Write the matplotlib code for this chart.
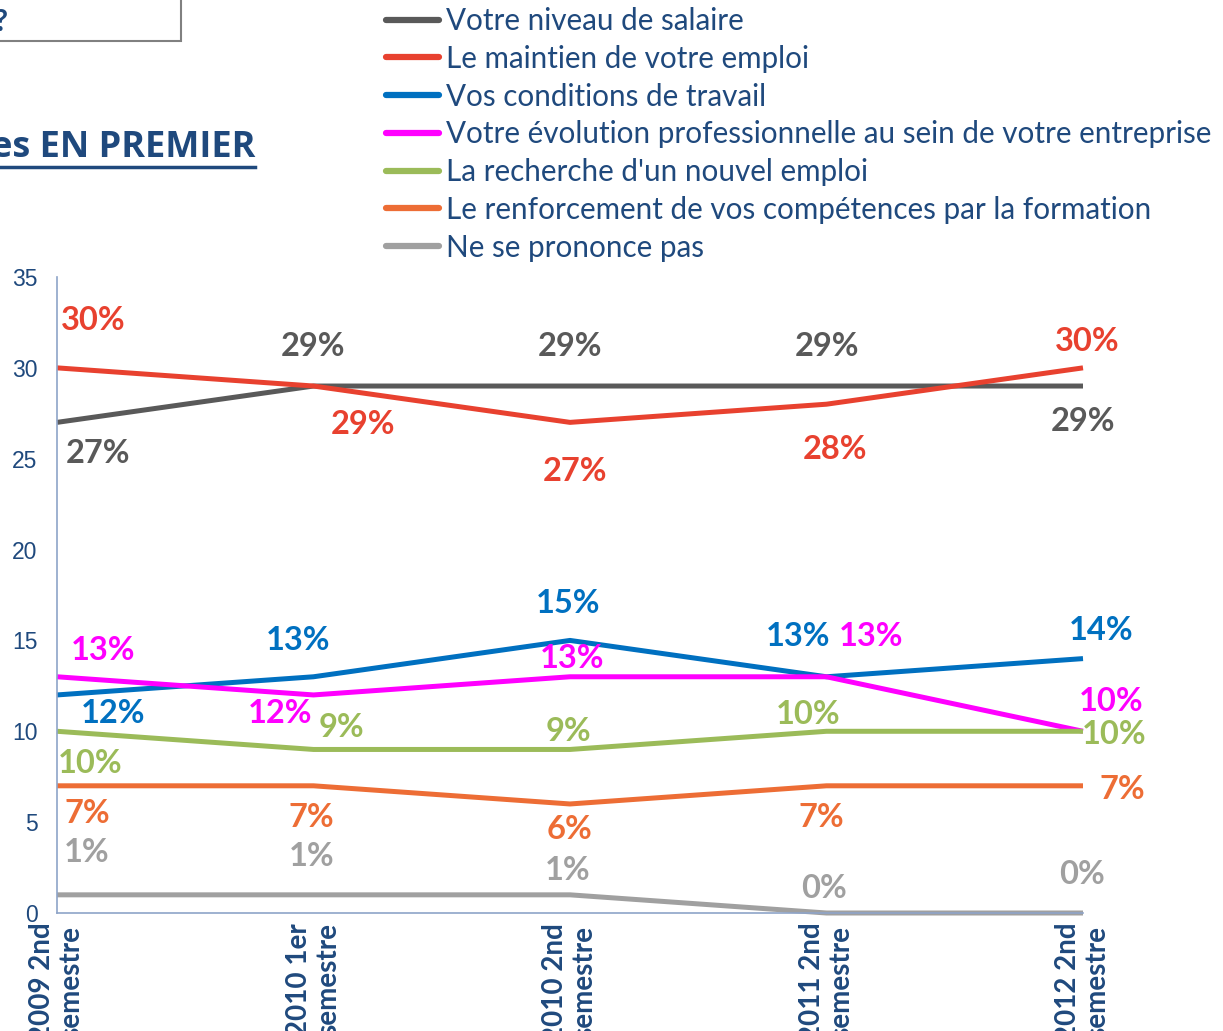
import matplotlib.pyplot as plt
from matplotlib.patches import Rectangle
from matplotlib.lines import Line2D

periods = ["2009 2nd\nsemestre", "2010 1er\nsemestre", "2010 2nd\nsemestre",
           "2011 2nd\nsemestre", "2012 2nd\nsemestre"]
series_names = ["Votre niveau de salaire",
                "Le maintien de votre emploi",
                "Vos conditions de travail",
                "Votre évolution professionnelle au sein de votre entreprise",
                "La recherche d'un nouvel emploi",
                "Le renforcement de vos compétences par la formation",
                "Ne se prononce pas"]
salaire = [27, 29, 29, 29, 29]
maintien = [30, 29, 27, 28, 30]
conditions = [12, 13, 15, 13, 14]
evolution = [13, 12, 13, 13, 10]
recherche = [10, 9, 9, 10, 10]
renforcement = [7, 7, 6, 7, 7]
nsp = [1, 1, 1, 0, 0]
series = [salaire, maintien, conditions, evolution, recherche, renforcement, nsp]

colors = ["#595959", "#E8412F", "#0070C0", "#FF00FF", "#9BBB59", "#ED6D35", "#A0A0A0"]
navy = "#1F497D"

# label offsets in pixels (dx, dy) relative to each point
offsets = [
    [(41, -31), (0, 40), (0, 40), (0, 40), (0, -35)],
    [(36, 47), (50, -38), (5, -49), (9, -45), (4, 26)],
    [(56, -19), (-15, 36), (-2, 37), (-28, 40), (18, 28)],
    [(46, 26), (-33, -19), (2, 18), (45, 40), (28, 30)],
    [(33, -32), (28, 22), (-2, 18), (-18, 17), (31, -3)],
    [(30, -28), (-2, -32), (0, -26), (-5, -32), (39, -4)],
    [(30, 42), (-2, 38), (-2, 24), (-3, 25), (-1, 39)],
]

W, H = 1223, 1031
fig = plt.figure(figsize=(W / 100, H / 100), dpi=100)
ax = fig.add_axes([57 / W, 1 - 913 / H, (1083 - 57) / W, (913 - 277) / H])

x = list(range(len(periods)))
lines = []
for vals, c, name in zip(series, colors, series_names):
    ln, = ax.plot(x, vals, color=c, lw=3.6, solid_capstyle='butt', label=name, clip_on=False)
    lines.append(ln)

for vals, c, offs in zip(series, colors, offsets):
    for xi, v, (dx, dy) in zip(x, vals, offs):
        ax.annotate(f"{v}%", (xi, v), xytext=(dx, dy), textcoords='offset pixels',
                    ha='center', va='center', color=c, fontsize=23.5,
                    fontweight='bold', family='Lato')

ax.set_xlim(0, 4)
ax.set_ylim(0, 35)
ax.set_yticks(range(0, 36, 5))
ax.set_yticklabels([str(t) for t in range(0, 36, 5)], family='Liberation Sans',
                   fontsize=16.5, color=navy)
ax.set_xticks(x)
ax.set_xticklabels(periods, rotation=90, fontsize=20, fontweight='bold', family='Lato',
                   color=navy, va='top', ha='center', linespacing=1.15)
ax.tick_params(axis='both', length=0)
ax.tick_params(axis='y', pad=14)
ax.tick_params(axis='x', pad=7)
for s in ['top', 'right']:
    ax.spines[s].set_visible(False)
for s in ['left', 'bottom']:
    ax.spines[s].set_color("#8EA4C8")
    ax.spines[s].set_linewidth(1.2)

leg = fig.legend(handles=lines, loc='upper left', bbox_to_anchor=(386 / W, 1 - 7 / H),
                 frameon=False, prop={'family': 'Lato', 'size': 21.3},
                 handlelength=1.78, handletextpad=0.24, labelspacing=0.33, borderpad=0,
                 borderaxespad=0)
for t in leg.get_texts():
    t.set_color(navy)
for h in leg.legend_handles:
    h.set_linewidth(4.5)
    h.set_solid_capstyle('round')

# top-left box and cropped title
fig.patches.append(Rectangle((-10 / W, 1 - 41 / H), 191 / W, 60 / H, transform=fig.transFigure,
                             facecolor='white', edgecolor='#808080', lw=1.5))
fig.text(-6 / W, 1 - 22 / H, "?", color=navy, fontsize=22, fontweight='bold',
         family='Lato', va='center', ha='left')
fig.text(255 / W, 1 - 148 / H, "es EN PREMIER", color=navy, fontsize=26, fontweight='bold',
         family='Open Sans', va='center', ha='right')
fig.add_artist(Line2D([0, 255 / W], [1 - 167 / H, 1 - 167 / H], color=navy, lw=2.5,
                      transform=fig.transFigure))

fig.savefig("out.png", dpi=100)
